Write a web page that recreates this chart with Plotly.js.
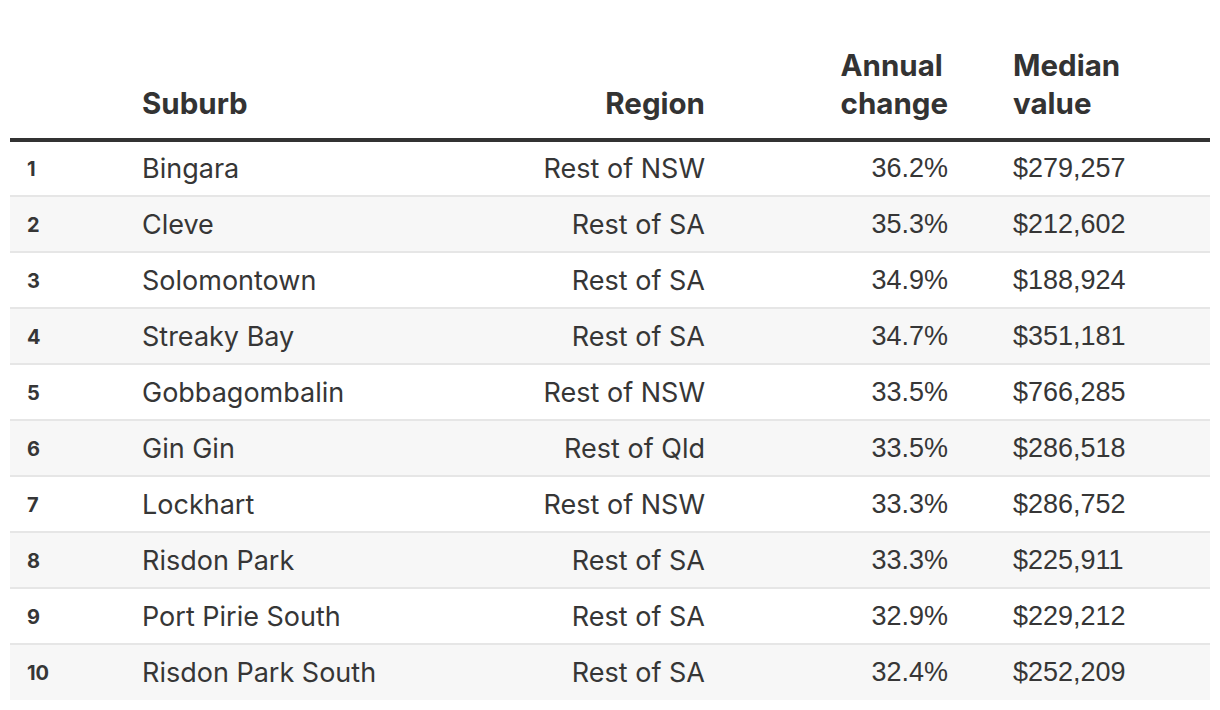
<!DOCTYPE html>
<html>
<head>
<meta charset="utf-8">
<script src="https://cdn.plot.ly/plotly-3.0.1.min.js"></script>
<style>
  html, body { margin: 0; padding: 0; background: #ffffff; }
  #chart { width: 1220px; height: 710px; }
</style>
</head>
<body>
<div id="chart"></div>
<script>
// ---- Data ----
const ranks = [1, 2, 3, 4, 5, 6, 7, 8, 9, 10];
const suburbs = ["Bingara", "Cleve", "Solomontown", "Streaky Bay", "Gobbagombalin",
                 "Gin Gin", "Lockhart", "Risdon Park", "Port Pirie South", "Risdon Park South"];
const regions = ["Rest of NSW", "Rest of SA", "Rest of SA", "Rest of SA", "Rest of NSW",
                 "Rest of Qld", "Rest of NSW", "Rest of SA", "Rest of SA", "Rest of SA"];
const annualChange = [36.2, 35.3, 34.9, 34.7, 33.5, 33.5, 33.3, 33.3, 32.9, 32.4];
const medianValue = [279257, 212602, 188924, 351181, 766285, 286518, 286752, 225911, 229212, 252209];
const headers = ["", "", "Suburb", "Region", "Annual<br>change", "", "Median<br>value"];

// ---- Layout constants ----
const W = 1220, H = 710;
const tableLeft = 10, tableRight = 1210;
const tableTop = 39;
const headerBottom = 140;
const headerH = headerBottom - tableTop;
const rowH = 56;
const colPx = [9, 115, 266, 313, 243, 49, 205];
const bodySize = 27;
const rankSize = 20;
const FONT = "Inter, Roboto, sans-serif";
const NUMFONT = "Liberation Sans, Arial, sans-serif";

const n = ranks.length;
const blank = ranks.map(() => "");
const fmtMoney = v => "$" + v.toLocaleString("en-US");
const cell = (s, size) => "\u00a0<br><span style=\"font-size:" + size + "px\">" + s + "</span>";
const columns = [
  blank,
  ranks.map(r => cell("<b>" + r + "</b>", rankSize)),
  suburbs.map(s => cell(s, bodySize)),
  regions.map(s => cell(s, bodySize)),
  annualChange.map(v => cell(v.toFixed(1) + "%", bodySize)),
  blank,
  medianValue.map(v => cell(fmtMoney(v), bodySize))
];
const rowFill = ranks.map((r, i) => (i % 2 === 0 ? "#ffffff" : "#f7f7f7"));
const fillCols = columns.map(() => rowFill);

const hdr = headers.map(h => {
  if (h === "") return "";
  const parts = h.split("<br>");
  if (parts.length === 1) parts.unshift("\u00a0");
  return parts.map(p => (p === "\u00a0" ? p : "<b>" + p + "</b>")).join("<br>");
});

const trace = {
  type: "table",
  domain: { x: [tableLeft / W, tableRight / W], y: [0, 1 - tableTop / H] },
  columnwidth: colPx,
  header: {
    values: hdr,
    align: ["left", "left", "left", "right", "right", "left", "left"],
    height: headerH,
    fill: { color: "#ffffff" },
    line: { width: 0, color: "rgba(0,0,0,0)" },
    font: { family: FONT, size: 29.5, color: "#333333" }
  },
  cells: {
    values: columns,
    align: ["left", "left", "left", "right", "right", "left", "left"],
    height: rowH,
    fill: { color: fillCols },
    line: { width: 0, color: "rgba(0,0,0,0)" },
    font: {
      family: [FONT, FONT, FONT, FONT, NUMFONT, FONT, NUMFONT],
      size: [13, 12, 13, 13, 13, 13, 13],
      color: "#363636"
    }
  }
};

// separator shapes derived from row count
const shapes = [];
const yPaper = px => 1 - px / H;
shapes.push({
  type: "line", xref: "paper", yref: "paper",
  x0: tableLeft / W, x1: tableRight / W,
  y0: yPaper(headerBottom), y1: yPaper(headerBottom),
  line: { color: "#333333", width: 4 }, layer: "above"
});
for (let i = 1; i < n; i++) {
  const y = headerBottom + i * rowH;
  shapes.push({
    type: "line", xref: "paper", yref: "paper",
    x0: tableLeft / W, x1: tableRight / W,
    y0: yPaper(y), y1: yPaper(y),
    line: { color: "#e6e6e6", width: 2 }, layer: "above"
  });
}

const layout = {
  width: W, height: H,
  margin: { l: 0, r: 0, t: 0, b: 0 },
  paper_bgcolor: "#ffffff",
  shapes: shapes,
  showlegend: false
};

Plotly.newPlot("chart", [trace], layout, { displayModeBar: false, staticPlot: true });
</script>
</body>
</html>
